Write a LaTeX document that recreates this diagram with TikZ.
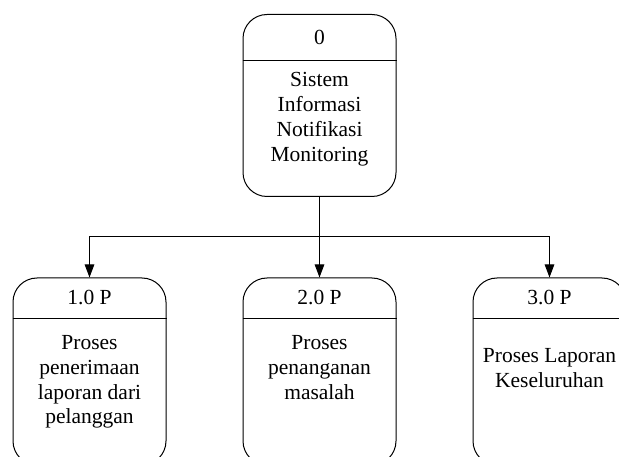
\documentclass[tikz,border=0pt]{standalone}
\usepackage{fontspec}
\setmainfont{Liberation Serif}
\usetikzlibrary{arrows.meta}
\begin{document}
\begin{tikzpicture}[x=1pt,y=-1pt,
  procbox/.style={draw=black,line width=1pt,rounded corners=24pt,
    minimum width=153pt,inner sep=0pt,anchor=north},
  label/.style={inner sep=0pt,align=center,
    font=\fontsize{21.5}{24.7}\selectfont},
  flow/.style={line width=1pt,-{Triangle[width=9.5pt,length=13pt]}}]
\useasboundingbox (0,0) rectangle (619,457);
\clip (0,0) rectangle (619,457);

% context process
\node[procbox,minimum height=182pt] (top) at (319.5,14) {};
\draw[line width=1pt] (242.5,61) coordinate (topL) -- (396.5,61) coordinate (topR);
\node[label] (topnum) at (319.5,37.5) {0};
\node[label,anchor=north] (toptxt) at (319.5,72.5)
  {Sistem\\Informasi\\Notifikasi\\Monitoring};

% level-1 processes
\node[procbox,minimum height=187pt] (b1) at (89.5,277.5) {};
\node[procbox,minimum height=187pt] (b2) at (319.5,277.5) {};
\node[procbox,minimum height=187pt] (b3) at (549.5,277.5) {};
\foreach \b in {b1,b2,b3}
  \draw[line width=1pt] (\b.west |- 0,319) -- (\b.east |- 0,319);

\node[label] (n1) at (89.5,298) {1.0 P};
\node[label] (n2) at (319.5,298) {2.0 P};
\node[label] (n3) at (549.5,298) {3.0 P};

\node[label,anchor=north] (t1) at (89.5,335.5)
  {Proses\\penerimaan\\laporan dari\\pelanggan};
\node[label,anchor=north] (t2) at (319.5,335.5)
  {Proses\\penanganan\\masalah};
\node[label,anchor=north] (t3) at (549.5,348.5)
  {Proses Laporan\\Keseluruhan};

% decomposition arrows
\coordinate (j) at (319.5,237);
\draw[flow] (top.south) -- (b2.north);
\draw[flow] (j) -| (b1.north);
\draw[flow] (j) -| (b3.north);
\end{tikzpicture}
\end{document}
